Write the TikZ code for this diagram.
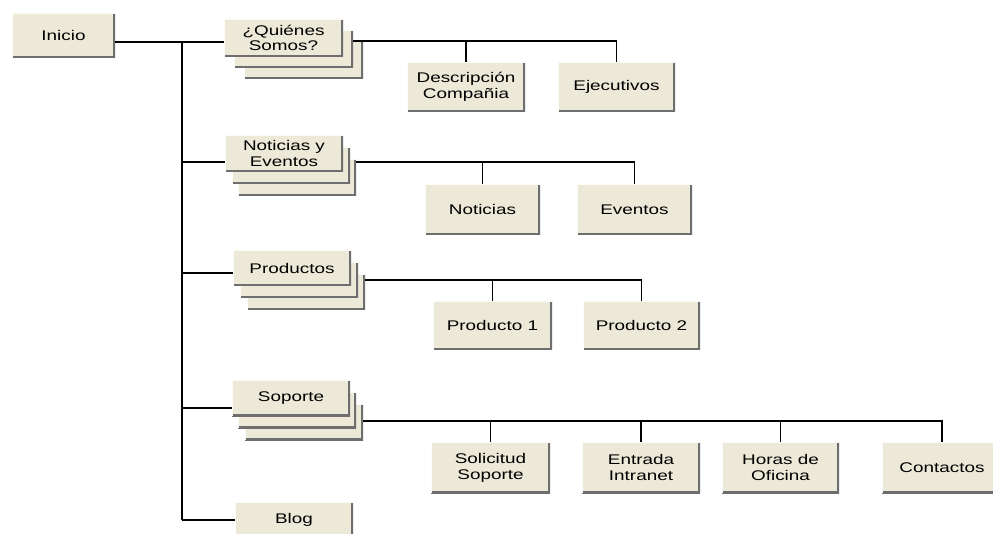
\documentclass[tikz,border=0pt]{standalone}
\usepackage{fontspec}
\setmainfont{Liberation Sans}[FakeStretch=1.35]
\definecolor{boxfill}{HTML}{ECE9D8}
\definecolor{boxedge}{HTML}{6E6E6E}
\tikzset{
  box/.style={rectangle, fill=boxfill, inner sep=1pt, align=center,
    font=\fontsize{14}{15.8}\selectfont,
    path picture={\draw[boxedge, line width=3.2pt]
      (path picture bounding box.north east) -- (path picture bounding box.south east)
      -- (path picture bounding box.south west);
      \draw[white!85!boxfill, line width=1.4pt]
      (path picture bounding box.south west) -- (path picture bounding box.north west)
      -- (path picture bounding box.north east);}},
  link/.style={draw=black, line width=1.1pt}
}
\begin{document}
\begin{tikzpicture}[x=1pt,y=-1pt]
\useasboundingbox[fill=white] (0,0) rectangle (993,534);
\begin{scope}
\clip (0,0) rectangle (993,534);
% Inicio
\node[box, minimum width=103pt, minimum height=45pt] (ini) at (63.5,35.5) {Inicio};
% Quienes Somos stack
\node[box, minimum width=119pt, minimum height=38pt] (q3) at (303.5,60) {};
\node[box, minimum width=119pt, minimum height=38pt] (q2) at (293.5,49) {};
\node[box, minimum width=119pt, minimum height=38pt] (q1) at (283.5,38) {¿Quiénes\\Somos?};
\node[box, minimum width=118pt, minimum height=50pt] (desc) at (466,87) {Descripción\\Compañia};
\node[box, minimum width=117pt, minimum height=50pt] (ejec) at (616.5,87) {Ejecutivos};
% Noticias y Eventos stack
\node[box, minimum width=118pt, minimum height=37pt] (n3) at (297,177.5) {};
\node[box, minimum width=118pt, minimum height=37pt] (n2) at (291,165.5) {};
\node[box, minimum width=118pt, minimum height=37pt] (n1) at (284,153.5) {Noticias y\\Eventos};
\node[box, minimum width=115pt, minimum height=51pt] (noti) at (482.5,209.5) {Noticias};
\node[box, minimum width=115pt, minimum height=51pt] (even) at (634.5,209.5) {Eventos};
% Productos stack
\node[box, minimum width=118pt, minimum height=36pt] (p3) at (306,292) {};
\node[box, minimum width=118pt, minimum height=36pt] (p2) at (299,280) {};
\node[box, minimum width=118pt, minimum height=36pt] (p1) at (292,268) {Productos};
\node[box, minimum width=119pt, minimum height=49pt] (pr1) at (492.5,325.5) {Producto 1};
\node[box, minimum width=117pt, minimum height=49pt] (pr2) at (641.5,325.5) {Producto 2};
% Soporte stack
\node[box, minimum width=118pt, minimum height=36pt] (s3) at (304,422) {};
\node[box, minimum width=118pt, minimum height=36pt] (s2) at (297,410) {};
\node[box, minimum width=118pt, minimum height=36pt] (s1) at (291,398) {Soporte};
\node[box, minimum width=119pt, minimum height=51pt] (sol) at (490.5,467.5) {Solicitud\\Soporte};
\node[box, minimum width=118pt, minimum height=51pt] (ent) at (641,467.5) {Entrada\\Intranet};
\node[box, minimum width=117pt, minimum height=51pt] (hor) at (780.5,467.5) {Horas de\\Oficina};
\node[box, minimum width=120pt, minimum height=51pt] (con) at (942,467.5) {Contactos};
% Blog
\node[box, minimum width=118pt, minimum height=36pt] (blog) at (294,520) {Blog};
% connectors
\coordinate (tq) at (182,42);
\coordinate (tn) at (182,162);
\coordinate (tp) at (182,273);
\coordinate (ts) at (182,408);
\coordinate (tb) at (182,520);
\draw[link] (ini.east |- tq) -- (q1.west |- tq);
\draw[link] (tq) -- (tb);
\draw[link] (tn) -- (n1.west |- tn);
\draw[link] (tp) -- (p1.west |- tp);
\draw[link] (ts) -- (s1.west |- ts);
\draw[link] (tb) -- (blog.west |- tb);
% buses
\coordinate (bq) at (616.5,41);
\draw[link] (q2.east |- bq) -- (bq) -- (ejec.north);
\draw[link] (desc.north |- bq) -- (desc.north);
\coordinate (bn) at (634.5,162);
\draw[link] (n3.east |- bn) -- (bn) -- (even.north);
\draw[link] (noti.north |- bn) -- (noti.north);
\coordinate (bp) at (641.5,280);
\draw[link] (p3.east |- bp) -- (bp) -- (pr2.north);
\draw[link] (pr1.north |- bp) -- (pr1.north);
\coordinate (bs) at (942,421);
\draw[link] (s3.east |- bs) -- (bs) -- (con.north);
\draw[link] (sol.north |- bs) -- (sol.north);
\draw[link] (ent.north |- bs) -- (ent.north);
\draw[link] (hor.north |- bs) -- (hor.north);
\end{scope}
\end{tikzpicture}
\end{document}
